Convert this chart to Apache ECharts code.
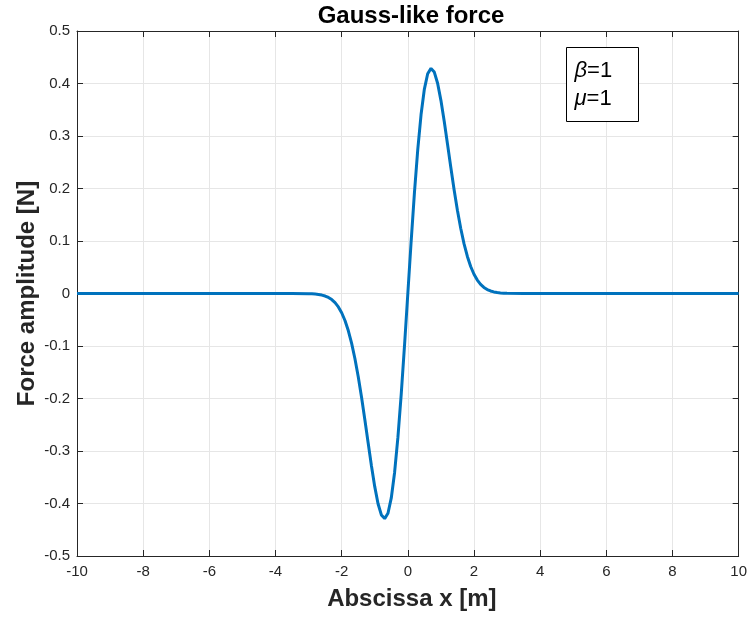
<!DOCTYPE html>
<html>
<head>
<meta charset="utf-8">
<script src="https://cdn.jsdelivr.net/npm/echarts@6/dist/echarts.min.js"></script>
<style>html,body{margin:0;padding:0;background:#fff}#c{width:750px;height:619px}</style>
</head>
<body>
<div id="c"></div>
<script>
// Data
const xValues = [-10, -3.5, -3.0, -2.9, -2.8, -2.7, -2.6, -2.5, -2.4, -2.3, -2.2, -2.1, -2.0, -1.9, -1.8, -1.7, -1.6, -1.5, -1.4, -1.3, -1.2, -1.1, -1.0, -0.9, -0.8, -0.7, -0.6, -0.5, -0.4, -0.3, -0.2, -0.1, 0.0, 0.1, 0.2, 0.3, 0.4, 0.5, 0.6, 0.7, 0.8, 0.9, 1.0, 1.1, 1.2, 1.3, 1.4, 1.5, 1.6, 1.7, 1.8, 1.9, 2.0, 2.1, 2.2, 2.3, 2.4, 2.5, 2.6, 2.7, 2.8, 2.9, 3.0, 3.5, 10];
const forceValues = [0, 0, -0.0004, -0.0006, -0.0011, -0.0018, -0.0030, -0.0048, -0.0076, -0.0116, -0.0174, -0.0255, -0.0366, -0.0514, -0.0705, -0.0945, -0.1237, -0.1581, -0.1972, -0.2399, -0.2843, -0.3280, -0.3679, -0.4004, -0.4218, -0.4288, -0.4186, -0.3894, -0.3409, -0.2742, -0.1922, -0.0990, 0, 0.0990, 0.1922, 0.2742, 0.3409, 0.3894, 0.4186, 0.4288, 0.4218, 0.4004, 0.3679, 0.3280, 0.2843, 0.2399, 0.1972, 0.1581, 0.1237, 0.0945, 0.0705, 0.0514, 0.0366, 0.0255, 0.0174, 0.0116, 0.0076, 0.0048, 0.0030, 0.0018, 0.0011, 0.0006, 0.0004, 0, 0];
const titleText = 'Gauss-like force';
const xLabel = 'Abscissa x [m]';
const yLabel = 'Force amplitude [N]';
const legendLines = ['β', 'μ'];
const legendValues = ['1', '1'];

const FONT = '"Liberation Sans", Arial, Helvetica, sans-serif';
const AX = '#262626';
const chart = echarts.init(document.getElementById('c'), null, {renderer: 'canvas'});
const data = xValues.map((x, i) => [x, forceValues[i]]);

const baseX = {
  type: 'value', min: -10, max: 10, interval: 2, gridIndex: 0,
  axisLine: {show: true, onZero: false, lineStyle: {color: AX, width: 1}},
  axisTick: {show: true, inside: true, length: 6, lineStyle: {color: AX}},
  splitLine: {show: false}
};
const baseY = {
  type: 'value', min: -0.5, max: 0.5, interval: 0.1, gridIndex: 0,
  axisLine: {show: true, onZero: false, lineStyle: {color: AX, width: 1}},
  axisTick: {show: true, inside: true, length: 6, lineStyle: {color: AX}},
  splitLine: {show: false}
};

function legendText(i) {
  return {
    type: 'text', x: 8, y: i === 0 ? 23 : 51, z: 101,
    style: {
      text: '{i|' + legendLines[i] + '}{n|=' + legendValues[i] + '}',
      verticalAlign: 'middle',
      rich: {
        i: {fontStyle: 'italic', fontFamily: FONT, fontSize: 22, fill: '#000'},
        n: {fontFamily: FONT, fontSize: 22, fill: '#000'}
      }
    }
  };
}

chart.setOption({
  animation: false,
  backgroundColor: '#fff',
  title: {
    text: titleText, left: 411, top: 4, textAlign: 'center', padding: 0,
    textStyle: {fontFamily: FONT, fontSize: 24, fontWeight: 'bold', color: '#000'}
  },
  grid: {left: 77, top: 31, width: 664, height: 525, containLabel: false},
  xAxis: [
    Object.assign({}, baseX, {
      position: 'bottom',
      splitLine: {show: true, lineStyle: {color: '#e6e6e6', width: 1}},
      axisLabel: {show: true, margin: 8, fontFamily: FONT, fontSize: 15, color: AX,
        formatter: v => String(Math.round(v))},
      name: xLabel, nameLocation: 'middle', nameGap: 31, nameMoveOverlap: false,
      nameTextStyle: {fontFamily: FONT, fontSize: 24, fontWeight: 'bold', color: AX, padding: [0, 0, 0, 8]}
    }),
    Object.assign({}, baseX, {position: 'top', axisLabel: {show: false}})
  ],
  yAxis: [
    Object.assign({}, baseY, {
      position: 'left',
      splitLine: {show: true, lineStyle: {color: '#e6e6e6', width: 1}},
      axisLabel: {show: true, margin: 7, fontFamily: FONT, fontSize: 15, color: AX,
        formatter: v => { const r = Math.round(v * 10) / 10; return r === 0 ? '0' : String(r); }},
      name: yLabel, nameLocation: 'middle', nameGap: 38, nameRotate: 90, nameMoveOverlap: false,
      nameTextStyle: {fontFamily: FONT, fontSize: 24, fontWeight: 'bold', color: AX}
    }),
    Object.assign({}, baseY, {position: 'right', axisLabel: {show: false}})
  ],
  series: [{
    type: 'line', data: data, xAxisIndex: 0, yAxisIndex: 0,
    showSymbol: false, smooth: false, z: 3,
    lineStyle: {color: '#0072BD', width: 3}
  }],
  graphic: [{
    type: 'group', left: 566, top: 47, z: 100,
    children: [
      {type: 'rect', z: 100, shape: {x: 0, y: 0, width: 72, height: 74},
        style: {fill: '#fff', stroke: '#000', lineWidth: 1}},
      legendText(0),
      legendText(1)
    ]
  }]
});
</script>
</body>
</html>
